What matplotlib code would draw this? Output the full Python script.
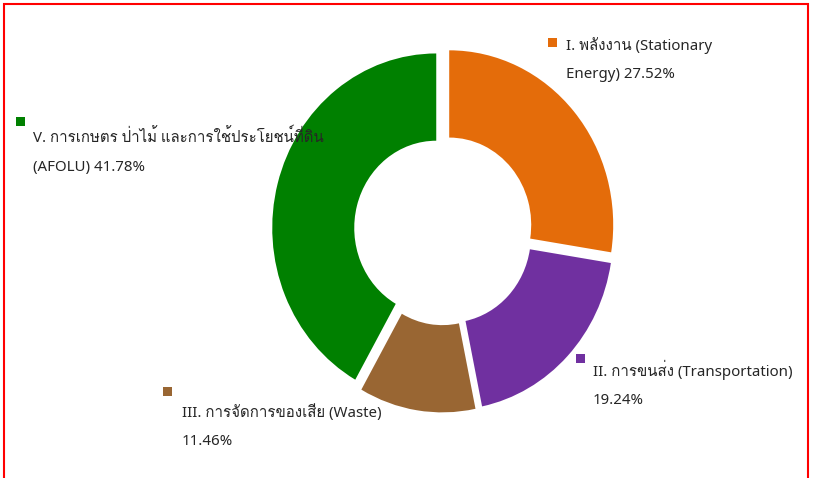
import matplotlib
matplotlib.use('Agg')
import matplotlib.pyplot as plt
from matplotlib import font_manager
from matplotlib.ft2font import FT2Font
from matplotlib.patches import Rectangle

# ข้อมูล
labels = ['I. พลังงาน (Stationary\nEnergy) 27.52%',
          'II. การขนส่ง (Transportation)\n19.24%',
          'III. การจัดการของเสีย (Waste)\n11.46%',
          'V. การเกษตร ป่าไม้ และการใช้ประโยชน์ที่ดิน\n(AFOLU) 41.78%']
values = [27.52, 19.24, 11.46, 41.78]
colors = ['#E46C0A', '#7030A0', '#996633', '#008000']


def find_thai_font():
    # หาฟอนต์ที่มีอักษรไทย
    for f in font_manager.fontManager.ttflist:
        try:
            cmap = FT2Font(f.fname).get_charmap()
        except Exception:
            continue
        if 0x0E01 in cmap and 0x0E32 in cmap and 0x0E34 in cmap:
            return f.name
    return None


thai = find_thai_font()
families = ['Noto Sans']
if thai:
    families.append(thai)
families.append('DejaVu Sans')
plt.rcParams['font.family'] = families

W, H = 815, 478
SY = 1.064  # ภาพต้นฉบับถูกยืดแนวตั้งเล็กน้อย

fig = plt.figure(figsize=(W / 100, H / 100), dpi=100)
ax = fig.add_axes([0, 0, 1, 1])


def px(x, y):
    # พิกัดพิกเซล (y จากด้านบน) -> พิกัดข้อมูล
    return x, (H - y) / SY


R = 164
ax.pie(values, colors=colors, startangle=90, counterclock=False,
       center=px(443.5, 230), radius=R, explode=[7.5] * 4,
       wedgeprops=dict(width=R * 0.5, linewidth=0))
ax.set_xlim(0, W)
ax.set_ylim(0, H / SY)
ax.set_aspect('auto')
ax.axis('off')

# ตำแหน่งป้าย (พิกเซล)
marker_pos = [(552, 42), (580, 358), (167, 391), (20, 121)]
text_pos = [(566, 45), (593, 368), (182, 412), (33, 137)]

for lab, col, (mx, my), (tx, ty) in zip(labels, colors, marker_pos, text_pos):
    x0, y0 = px(mx - 4.5, my + 4.5)
    ax.add_patch(Rectangle((x0, y0), 9, 9 / SY, color=col, lw=0))
    ax.text(*px(tx, ty - 8), lab, fontsize=10.8, color='#262626',
            ha='left', va='top', linespacing=2.2)

# กรอบสีแดง
fig.patches.append(Rectangle((3.5 / W, -0.05), (808 - 3.5) / W, 1.05 - 4 / H,
                             transform=fig.transFigure, fill=False,
                             edgecolor='red', linewidth=1.5))

fig.savefig('out.png', dpi=100)
